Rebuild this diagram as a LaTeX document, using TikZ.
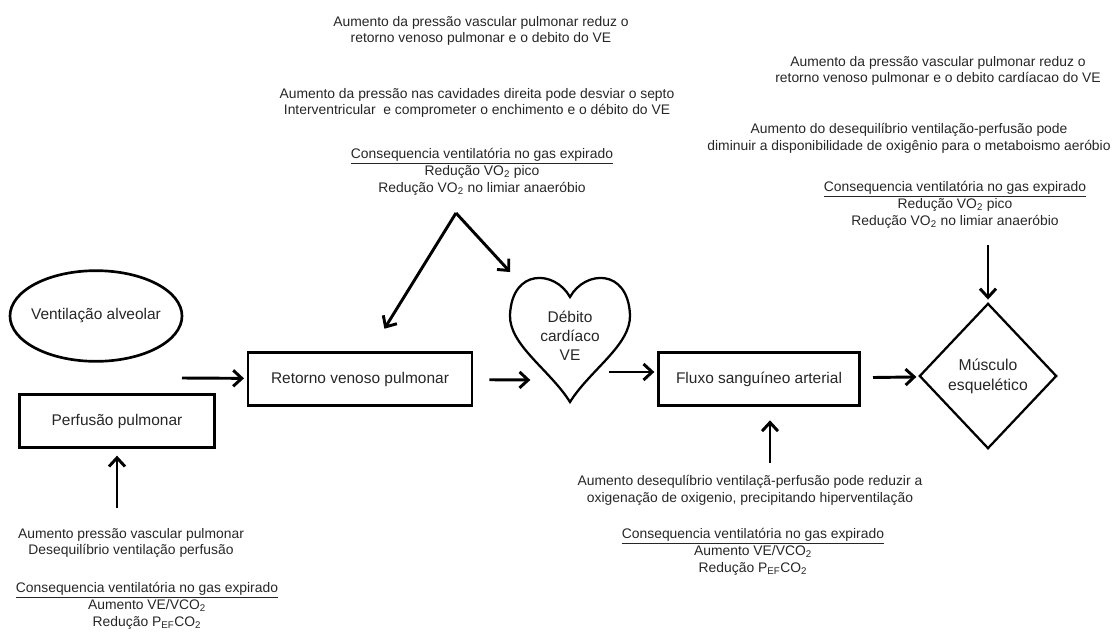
\documentclass[tikz,border=0pt]{standalone}
\usepackage{fontspec}
\setmainfont{Liberation Sans}
\usetikzlibrary{arrows.meta, positioning, shapes.geometric, calc}

\begin{document}
\begin{tikzpicture}[
    x=0.75pt, y=-0.75pt,
    label/.style={inner sep=2pt, align=center, font=\fontsize{11.6}{14.3}\selectfont, text=black!85},
    box/.style={label, draw, line width=2pt, minimum height=40pt},
    note/.style={align=center, inner sep=0pt, font=\fontsize{10.4}{12.6}\selectfont, text=black!85},
    arr/.style={-{Straight Barb[length=6.5pt,width=12pt]}, line width=2.2pt, shorten >=2pt}
]
    \useasboundingbox (0,0) rectangle (1118,632);

    % Entities
    \node[label] (vent) at (96,316) {Ventilação alveolar};
    \draw[line width=2pt] (vent) ellipse [x radius=64.5pt, y radius=34pt];
    \node[box, minimum width=146pt] (perf) at (117,421) {Perfusão pulmonar};
    \node[box, minimum width=168pt] (retorno) at (360,379) {Retorno venoso pulmonar};
    \node[label, inner sep=0pt] (heart) at (570,336) {Débito\\cardíaco\\VE};
    \node[box, minimum width=151pt] (fluxo) at (759,379) {Fluxo sanguíneo arterial};
    \node[label, draw, diamond, aspect=0.94, line width=1.7pt, minimum width=103pt, minimum height=109pt, inner sep=0pt, font=\fontsize{11.8}{15}\selectfont] (musculo) at (988,376) {Músculo\\esquelético};

    % Heart outline
    \draw[line width=1.7pt] (570,297) .. controls (585,270) and (628,268) .. (630,315)
        .. controls (631,345) and (590,370) .. (570,402)
        .. controls (550,370) and (509,345) .. (510,315)
        .. controls (512,268) and (555,270) .. (570,297) -- cycle;

    % Notes above
    \node[note] (presA) at (481,31) {Aumento da pressão vascular pulmonar reduz o\\retorno venoso pulmonar e o debito do VE};
    \node[note] (presB) at (477,103) {Aumento da pressão nas cavidades direita pode desviar o septo\\Interventricular\ \ e comprometer o enchimento e o débito do VE};
    \node[note] (consA) at (482,172) {\underline{Consequencia ventilatória no gas expirado}\\Redução VO\textsubscript{2} pico\\Redução VO\textsubscript{2} no limiar anaeróbio};
    \node[note] (presC) at (938,71) {Aumento da pressão vascular pulmonar reduz o\\retorno venoso pulmonar e o debito cardíacao do VE};
    \node[note] (desB) at (909,138) {Aumento do desequilíbrio ventilação-perfusão pode\\diminuir a disponibilidade de oxigênio para o metaboismo aeróbio};
    \node[note] (consB) at (955,205) {\underline{Consequencia ventilatória no gas expirado}\\Redução VO\textsubscript{2} pico\\Redução VO\textsubscript{2} no limiar anaeróbio};

    % Notes below
    \node[note] (desA) at (750,490) {Aumento desequlíbrio ventilaçã-perfusão pode reduzir a\\oxigenação de oxigenio, precipitando hiperventilação};
    \node[note] (consC) at (753,552) {\underline{Consequencia ventilatória no gas expirado}\\Aumento VE/VCO\textsubscript{2}\\Redução P\textsubscript{EF}CO\textsubscript{2}};
    \node[note] (presD) at (131,543) {Aumento pressão vascular pulmonar\\Desequilíbrio ventilação perfusão};
    \node[note] (consD) at (147,606) {\underline{Consequencia ventilatória no gas expirado}\\Aumento VE/VCO\textsubscript{2}\\Redução P\textsubscript{EF}CO\textsubscript{2}};

    % Free ends
    \coordinate (vp) at (182,378);
    \coordinate (hin) at (533,380);
    \coordinate (hout) at (609,372);
    \coordinate (vtop) at (456,213);
    \coordinate (vleft) at (383,331);
    \coordinate (vright) at (512,274);
    \coordinate (mtop) at (988,245);
    \coordinate (ftop) at (770,463);
    \coordinate (ptop) at (117,508);

    % Main flow
    \draw[arr] (vp) -- (retorno);
    \draw[arr, shorten <=12pt] (retorno) -- (hin);
    \draw[arr] (hout) -- (hout -| fluxo.west);
    \draw[arr, shorten <=9pt] (fluxo) -- (musculo);

    % Influences
    \draw[arr] (vtop) -- (vleft);
    \draw[arr] (vtop) -- (vright);
    \draw[arr] (mtop) -- (musculo);
    \draw[arr, shorten >=10pt] (ftop) -- (ftop |- fluxo.south);
    \draw[arr, shorten >=5pt] (ptop) -- (perf);
\end{tikzpicture}
\end{document}
